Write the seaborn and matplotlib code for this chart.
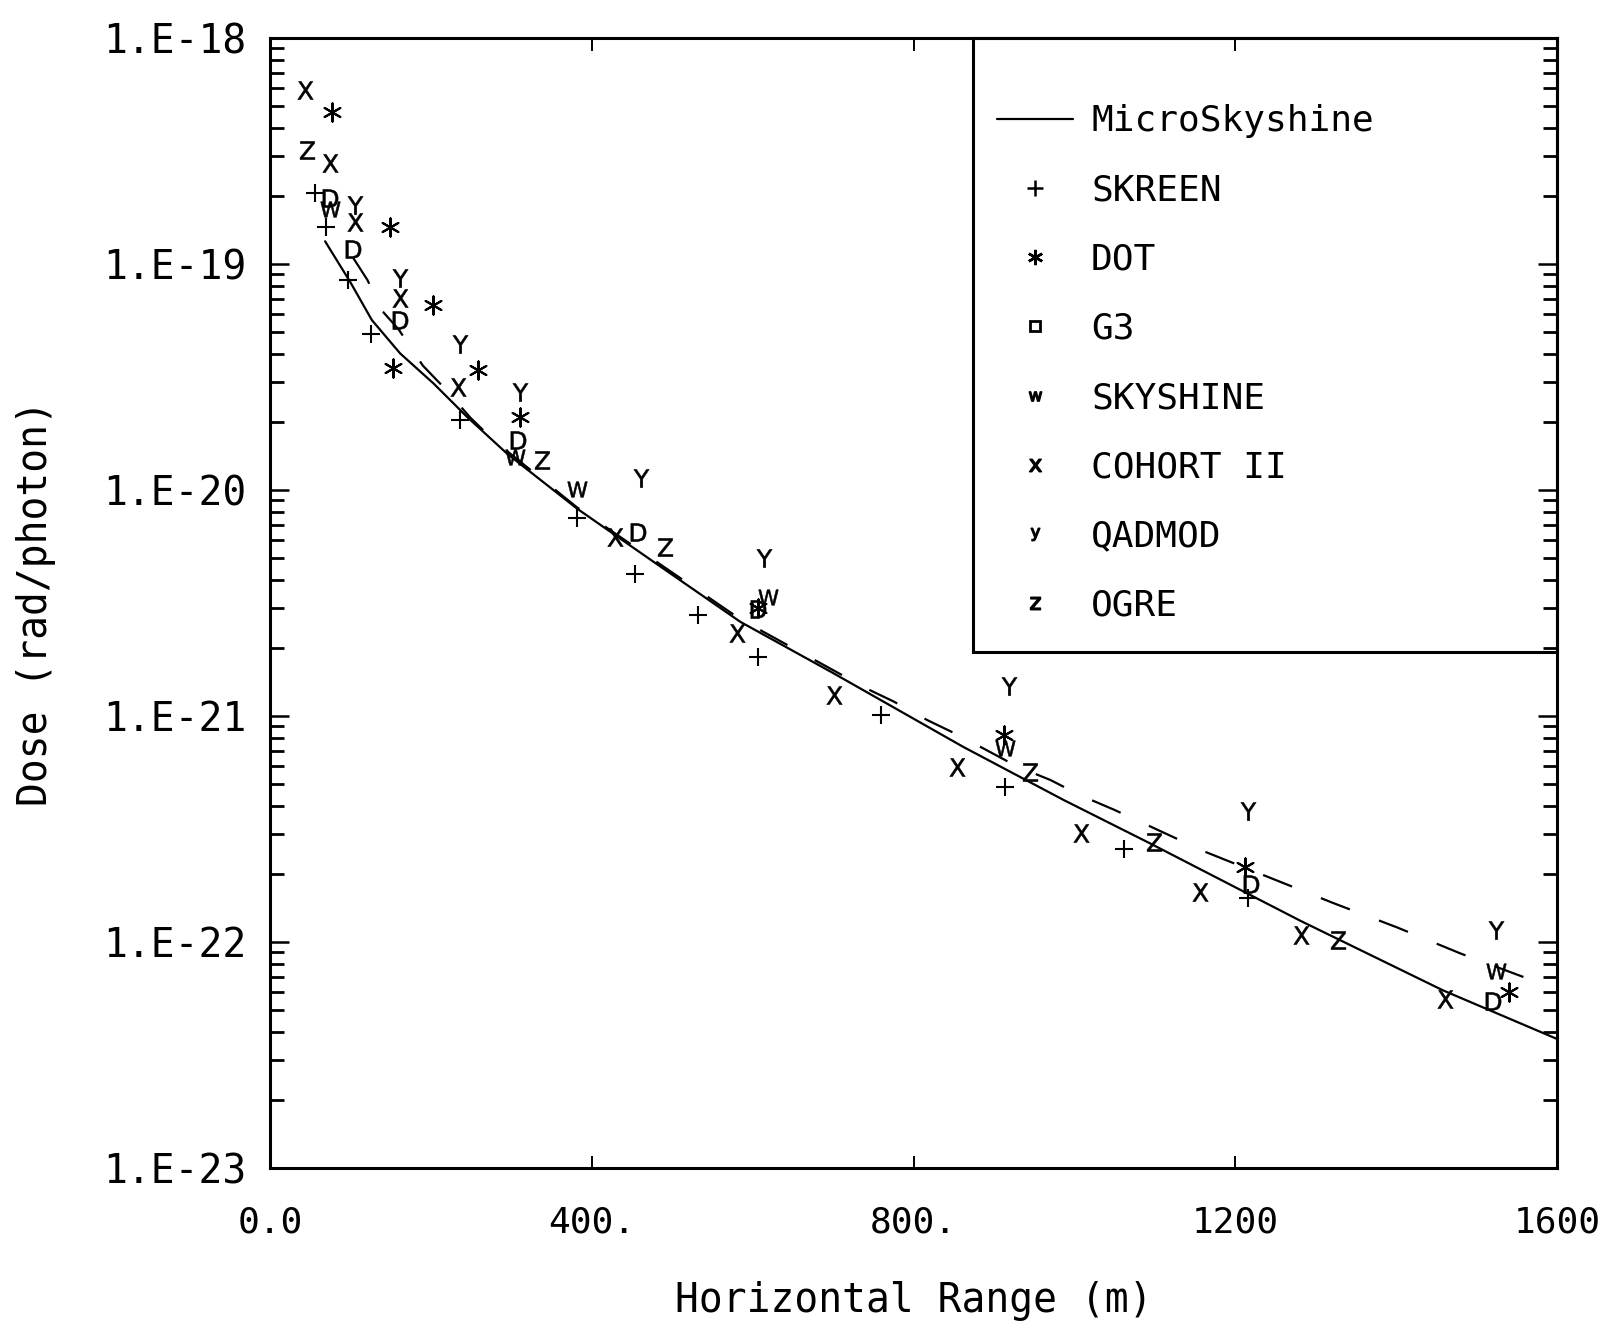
import numpy as np
import pandas as pd
import matplotlib
matplotlib.use("Agg")
import matplotlib.pyplot as plt
import matplotlib.ticker as mticker
from matplotlib.lines import Line2D
from matplotlib.patches import Rectangle
import seaborn as sns

# MicroSkyshine curves (solid and dashed)
curve_x = [68.5, 99.6, 126.6, 161.8, 203.3, 244.7, 294.5, 381.5, 476.8, 584.6, 697, 862, 987,
           1094, 1281, 1458, 1600]
curve_dose = [1.26e-19, 8.34e-20, 5.65e-20, 4.02e-20, 2.96e-20, 2.11e-20, 1.45e-20, 8.28e-21,
              4.81e-21, 2.61e-21, 1.57e-21, 7.29e-22, 4.24e-22, 2.73e-22, 1.24e-22, 6.11e-23,
              3.72e-23]
dash_x = [103, 121, 140, 160, 190, 220, 249, 278, 381, 584, 742, 775, 817, 856, 929, 970, 1007,
          1049, 1085, 1162, 1321, 1401, 1480, 1558]
dash_dose = [1.07e-19, 8.51e-20, 6.17e-20, 5.13e-20, 3.55e-20, 2.75e-20, 2.09e-20, 1.66e-20,
             8.41e-21, 2.69e-21, 1.32e-21, 1.16e-21, 9.59e-22, 8.22e-22, 5.97e-22, 5.21e-22,
             4.46e-22, 3.85e-22, 3.36e-22, 2.51e-22, 1.49e-22, 1.16e-22, 8.89e-23, 7.00e-23]

# benchmark codes
skreen_x = [56, 70, 97, 126, 236, 382, 454, 532, 607, 759, 914, 1062, 1216]
skreen_dose = [2.06e-19, 1.46e-19, 8.47e-20, 4.92e-20, 2.05e-20, 7.50e-21, 4.26e-21, 2.81e-21,
               1.83e-21, 1.01e-21, 4.84e-22, 2.58e-22, 1.56e-22]
dot_x = [77, 149, 203, 153, 258, 311, 606, 912, 1212, 1540]
dot_dose = [4.71e-19, 1.46e-19, 6.59e-20, 3.45e-20, 3.41e-20, 2.11e-20, 2.99e-21, 8.24e-22,
            2.14e-22, 5.98e-23]
g3_x = [75, 103, 162, 308, 458, 607, 1219, 1520]
g3_dose = [1.96e-19, 1.17e-19, 5.64e-20, 1.66e-20, 6.55e-21, 2.96e-21, 1.81e-22, 5.50e-23]
skyshine_x = [75, 305, 382, 619, 914, 1524]
skyshine_dose = [1.76e-19, 1.40e-20, 1.01e-20, 3.35e-21, 7.19e-22, 7.45e-23]
cohort_x = [43, 74, 106, 162, 234, 429, 581, 701, 854, 1008, 1156, 1281, 1461]
cohort_dose = [5.86e-19, 2.79e-19, 1.54e-19, 7.10e-20, 2.86e-20, 6.21e-21, 2.32e-21, 1.24e-21,
               5.97e-22, 3.05e-22, 1.67e-22, 1.07e-22, 5.61e-23]
qadmod_x = [106, 162, 236, 311, 461, 614, 918, 1216, 1524]
qadmod_dose = [1.82e-19, 8.65e-20, 4.44e-20, 2.71e-20, 1.13e-20, 4.99e-21, 1.36e-21, 3.80e-22,
               1.13e-22]
ogre_x = [46, 338, 491, 945, 1099, 1328]
ogre_dose = [3.20e-19, 1.36e-20, 5.58e-21, 5.66e-22, 2.78e-22, 1.02e-22]

series = [
    ("SKREEN", skreen_x, skreen_dose, "+", 150, "+"),
    ("DOT", dot_x, dot_dose, (6, 2, 0), 170, (6, 2, 0)),
    ("G3", g3_x, g3_dose, r"$\mathsf{D}$", 170, "s"),
    ("SKYSHINE", skyshine_x, skyshine_dose, r"$\mathsf{W}$", 200, r"$\mathsf{w}$"),
    ("COHORT II", cohort_x, cohort_dose, r"$\mathsf{X}$", 170, r"$\mathsf{x}$"),
    ("QADMOD", qadmod_x, qadmod_dose, r"$\mathsf{Y}$", 170, r"$\mathsf{y}$"),
    ("OGRE", ogre_x, ogre_dose, r"$\mathsf{Z}$", 170, r"$\mathsf{z}$"),
]

sns.set_theme(style="white")
plt.rcParams["font.family"] = ["DejaVu Sans Mono", "DejaVu Sans"]
plt.rcParams["mathtext.fontset"] = "dejavusans"

fig = plt.figure(figsize=(16.09, 13.33), dpi=100, facecolor="white")
ax = fig.add_axes([0.1678, 0.1238, 0.800, 0.8477])
ax.set_yscale("log")

curve = pd.DataFrame({"x": curve_x, "dose": curve_dose})
dashed = pd.DataFrame({"x": dash_x, "dose": dash_dose})
sns.lineplot(data=curve, x="x", y="dose", color="black", linewidth=1.6, ax=ax, sort=False)
sns.lineplot(data=dashed, x="x", y="dose", color="black", linewidth=1.6, ax=ax, sort=False,
             linestyle=(0, (14, 14)))

for name, xs, ds, marker, size, _ in series:
    df = pd.DataFrame({"x": xs, "dose": ds})
    m = matplotlib.markers.MarkerStyle(marker)
    if m.is_filled():
        sns.scatterplot(data=df, x="x", y="dose", marker=marker, s=size, color="black",
                        edgecolor="black", linewidth=0.4, ax=ax, legend=False, zorder=3)
    else:
        sns.scatterplot(data=df, x="x", y="dose", marker=marker, s=size, color="black",
                        linewidth=1.5, ax=ax, legend=False, zorder=3)

ax.set_xlim(0, 1600)
ax.set_ylim(1e-23, 1e-18)

ax.xaxis.set_major_locator(mticker.FixedLocator([0, 400, 800, 1200, 1600]))
ax.xaxis.set_major_formatter(mticker.FixedFormatter(["0.0", "400.", "800.", "1200", "1600"]))
ax.yaxis.set_major_locator(mticker.LogLocator(base=10, numticks=10))
ax.yaxis.set_minor_locator(mticker.LogLocator(base=10, subs=np.arange(2, 10), numticks=20))
ax.yaxis.set_major_formatter(mticker.FuncFormatter(lambda v, p: f"1.E{int(round(np.log10(v)))}"))
ax.yaxis.set_minor_formatter(mticker.NullFormatter())

ax.tick_params(which="both", direction="in", left=True, bottom=True, top=True, right=True,
               color="black", labelcolor="black")
ax.tick_params(axis="y", which="major", length=14, width=1.8, pad=17, labelsize=28.5)
ax.tick_params(axis="y", which="minor", length=10, width=2.0, left=True, right=True)
ax.tick_params(axis="x", which="major", length=9, width=1.4, pad=27, labelsize=26)

for sp in ax.spines.values():
    sp.set_color("black")
    sp.set_linewidth(2.2)

ax.set_xlabel("Horizontal Range (m)", fontsize=28.5, color="black")
ax.set_ylabel("Dose (rad/photon)", fontsize=28.5, color="black")
ax.xaxis.set_label_coords(0.5, -0.100)
ax.yaxis.set_label_coords(-0.166, 0.5)

handles = [Line2D([], [], color="black", linewidth=1.6, label="MicroSkyshine")]
for name, xs, ds, marker, size, leg_marker in series:
    if leg_marker == "s":
        h = Line2D([], [], linestyle="none", marker="s", markersize=7, markerfacecolor="white",
                   markeredgecolor="black", markeredgewidth=2, label=name)
    elif isinstance(leg_marker, str) and leg_marker.startswith("$"):
        h = Line2D([], [], linestyle="none", marker=leg_marker, markersize=9, color="black", label=name)
    else:
        h = Line2D([], [], linestyle="none", marker=leg_marker, markersize=11, color="black",
                   markeredgewidth=1.8, label=name)
    handles.append(h)

# legend box drawn on its own so the padding above/below matches the original
ax.add_patch(Rectangle((0.546, 0.4566), 0.454, 0.5434, transform=ax.transAxes, fill=False,
                       edgecolor="black", linewidth=2.2, clip_on=False, zorder=4))
leg = ax.legend(handles=handles, loc="upper left", bbox_to_anchor=(0.5649, 0.9413),
                borderaxespad=0, frameon=False, fontsize=26, labelspacing=0.975,
                handlelength=2.1, handletextpad=0.5, borderpad=0)
for t in leg.get_texts():
    t.set_color("black")

fig.savefig("out.png", dpi=100, facecolor="white")
